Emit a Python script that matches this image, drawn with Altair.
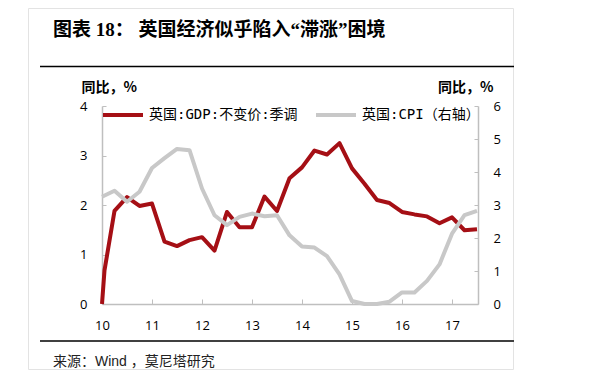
import altair as alt
import pandas as pd

# ---------------- data ----------------
gdp_time = [2010.00, 2010.05, 2010.25, 2010.50, 2010.75, 2011.00, 2011.25, 2011.50, 2011.75,
            2012.00, 2012.25, 2012.50, 2012.75, 2013.00, 2013.25, 2013.50, 2013.75,
            2014.00, 2014.25, 2014.50, 2014.75, 2015.00, 2015.25, 2015.50, 2015.75,
            2016.00, 2016.25, 2016.50, 2016.75, 2017.00, 2017.25, 2017.50]
gdp_values = [0.00, 0.68, 1.88, 2.16, 1.98, 2.03, 1.26, 1.17, 1.29,
              1.35, 1.08, 1.86, 1.55, 1.55, 2.17, 1.88, 2.54,
              2.76, 3.10, 3.02, 3.25, 2.74, 2.43, 2.10, 2.04,
              1.86, 1.81, 1.77, 1.63, 1.75, 1.49, 1.51]

cpi_time = [2010.00, 2010.25, 2010.50, 2010.75, 2011.00, 2011.25, 2011.50, 2011.75,
            2012.00, 2012.25, 2012.50, 2012.75, 2013.00, 2013.25, 2013.50, 2013.75,
            2014.00, 2014.25, 2014.50, 2014.75, 2015.00, 2015.25, 2015.50, 2015.75,
            2016.00, 2016.25, 2016.50, 2016.75, 2017.00, 2017.25, 2017.50]
cpi_values = [3.25, 3.43, 3.10, 3.40, 4.12, 4.42, 4.70, 4.66,
              3.50, 2.69, 2.39, 2.64, 2.74, 2.66, 2.69, 2.08,
              1.74, 1.71, 1.45, 0.90, 0.09, 0.00, 0.00, 0.07,
              0.35, 0.35, 0.70, 1.20, 2.13, 2.69, 2.82]

year_ticks = [2010, 2011, 2012, 2013, 2014, 2015, 2016, 2017]
left_ticks = [0, 1, 2, 3, 4]
right_ticks = [0, 1, 2, 3, 4, 5, 6]
series_names = ["英国:GDP:不变价:季调", "英国:CPI（右轴）"]
series_colors = ["#A50F15", "#C8C8C8"]
title_text = "图表 18：  英国经济似乎陷入“滞涨”困境"
source_text = "来源：Wind ，莫尼塔研究"
axis_title = "同比，%"

gdp_df = pd.DataFrame({"t": gdp_time, "v": gdp_values, "s": series_names[0]})
cpi_df = pd.DataFrame({"t": cpi_time, "v": cpi_values, "s": series_names[1]})
one = pd.DataFrame({"k": [0]})

# ---------------- layout ----------------
W, H = 376, 198
AXIS_GREY = "#BFBFBF"
LABEL_FONT = "Open Sans"
CJK = "Noto Sans CJK SC"

xscale = alt.Scale(domain=[2010, 2017.52], nice=False, zero=False)
yl_scale = alt.Scale(domain=[0, 4], nice=False, zero=True)
yr_scale = alt.Scale(domain=[0, 6], nice=False, zero=True)
color_scale = alt.Scale(domain=series_names, range=series_colors)

legend = alt.Legend(
    orient="none", legendX=-1, legendY=-13, direction="horizontal", title=None,
    symbolType="stroke", symbolSize=1600, symbolStrokeWidth=4,
    labelFont="DejaVu Sans Mono, " + CJK, labelFontSize=14, labelColor="#000",
    labelOffset=4, columnPadding=10, padding=0, labelLimit=300,
)

# card border and separators (decoration)
card = alt.Chart(one).mark_rect(fillOpacity=0, stroke="#E3E3E3", strokeWidth=1).encode(
    x=alt.value(-73.5), x2=alt.value(411.5), y=alt.value(-97.5), y2=alt.value(263.5)
)
top_rule = alt.Chart(one).mark_rule(color="#000", strokeWidth=1.5).encode(
    x=alt.value(-62), x2=alt.value(412), y=alt.value(-39.5)
)
bottom_rule = alt.Chart(one).mark_rule(color="#404040", strokeWidth=2).encode(
    x=alt.value(-62), x2=alt.value(412), y=alt.value(235)
)
title = alt.Chart(one).mark_text(
    align="left", baseline="middle", font="Liberation Serif, " + CJK,
    fontSize=19, fontWeight="bold", color="#000"
).encode(x=alt.value(-49), y=alt.value(-76), text=alt.value(title_text))
source = alt.Chart(one).mark_text(
    align="left", baseline="middle", font="Liberation Sans, " + CJK,
    fontSize=14, color="#222"
).encode(x=alt.value(-49), y=alt.value(256), text=alt.value(source_text))

gdp = alt.Chart(gdp_df).mark_line(strokeWidth=4, strokeJoin="round").encode(
    x=alt.X("t:Q", scale=xscale, axis=alt.Axis(
        orient="bottom", values=year_ticks, format="d",
        labelExpr="substring(datum.label, 2)", ticks=False, grid=False,
        labelFlush=False, labelOverlap=False,
        domainColor=AXIS_GREY, domainWidth=1.5, labelFont=LABEL_FONT,
        labelFontSize=13, labelColor="#000", labelPadding=15, title=None)),
    y=alt.Y("v:Q", scale=yl_scale, axis=alt.Axis(
        orient="left", values=left_ticks, ticks=False, grid=False,
        domainColor=AXIS_GREY, domainWidth=1.5, labelFont=LABEL_FONT,
        labelFontSize=13, labelColor="#000", labelPadding=15,
        title=axis_title, titleAngle=0, titleAlign="left", titleBaseline="middle",
        titleX=-21, titleY=-19, titleFont=CJK, titleFontSize=14,
        titleFontWeight="bold", titleColor="#000")),
    color=alt.Color("s:N", scale=color_scale, legend=legend),
)

cpi = alt.Chart(cpi_df).mark_line(strokeWidth=4, strokeJoin="round").encode(
    x=alt.X("t:Q", scale=xscale, axis=None),
    y=alt.Y("v:Q", scale=yr_scale, axis=alt.Axis(
        orient="right", values=right_ticks, ticks=False, grid=False,
        domainColor=AXIS_GREY, domainWidth=1.5, labelFont=LABEL_FONT,
        labelFontSize=13, labelColor="#000", labelPadding=15,
        title=axis_title, titleAngle=0, titleAlign="right", titleBaseline="middle",
        titleX=15, titleY=-19, titleFont=CJK, titleFontSize=14,
        titleFontWeight="bold", titleColor="#000")),
    color=alt.Color("s:N", scale=color_scale, legend=legend),
)

# inward tick marks (axes moved onto the opposite edge)
ticks_a = alt.Chart(gdp_df).mark_line(strokeOpacity=0).encode(
    x=alt.X("t:Q", scale=xscale, axis=alt.Axis(
        orient="top", offset=-H, values=year_ticks, labels=False, domain=False,
        ticks=True, tickSize=5, tickColor=AXIS_GREY, tickWidth=1, grid=False, title=None)),
    y=alt.Y("v:Q", scale=yl_scale, axis=alt.Axis(
        orient="right", offset=-W, values=left_ticks, labels=False, domain=False,
        ticks=True, tickSize=4, tickColor=AXIS_GREY, tickWidth=1, grid=False, title=None)),
)
ticks_b = alt.Chart(cpi_df).mark_line(strokeOpacity=0).encode(
    x=alt.X("t:Q", scale=xscale, axis=None),
    y=alt.Y("v:Q", scale=yr_scale, axis=alt.Axis(
        orient="left", offset=-W, values=right_ticks, labels=False, domain=False,
        ticks=True, tickSize=4, tickColor=AXIS_GREY, tickWidth=1, grid=False, title=None)),
)

chart = alt.layer(
    card, top_rule, bottom_rule, title, source, gdp, cpi, ticks_a, ticks_b
).resolve_scale(y="independent").resolve_axis(x="independent", y="independent").properties(
    width=W, height=H,
    autosize=alt.AutoSizeParams(type="none"),
    padding={"left": 94, "top": 98, "right": 109, "bottom": 66},
    background="white",
).configure_view(stroke=None)

chart.save("out.html", embed_options={"renderer": "svg", "actions": False})
